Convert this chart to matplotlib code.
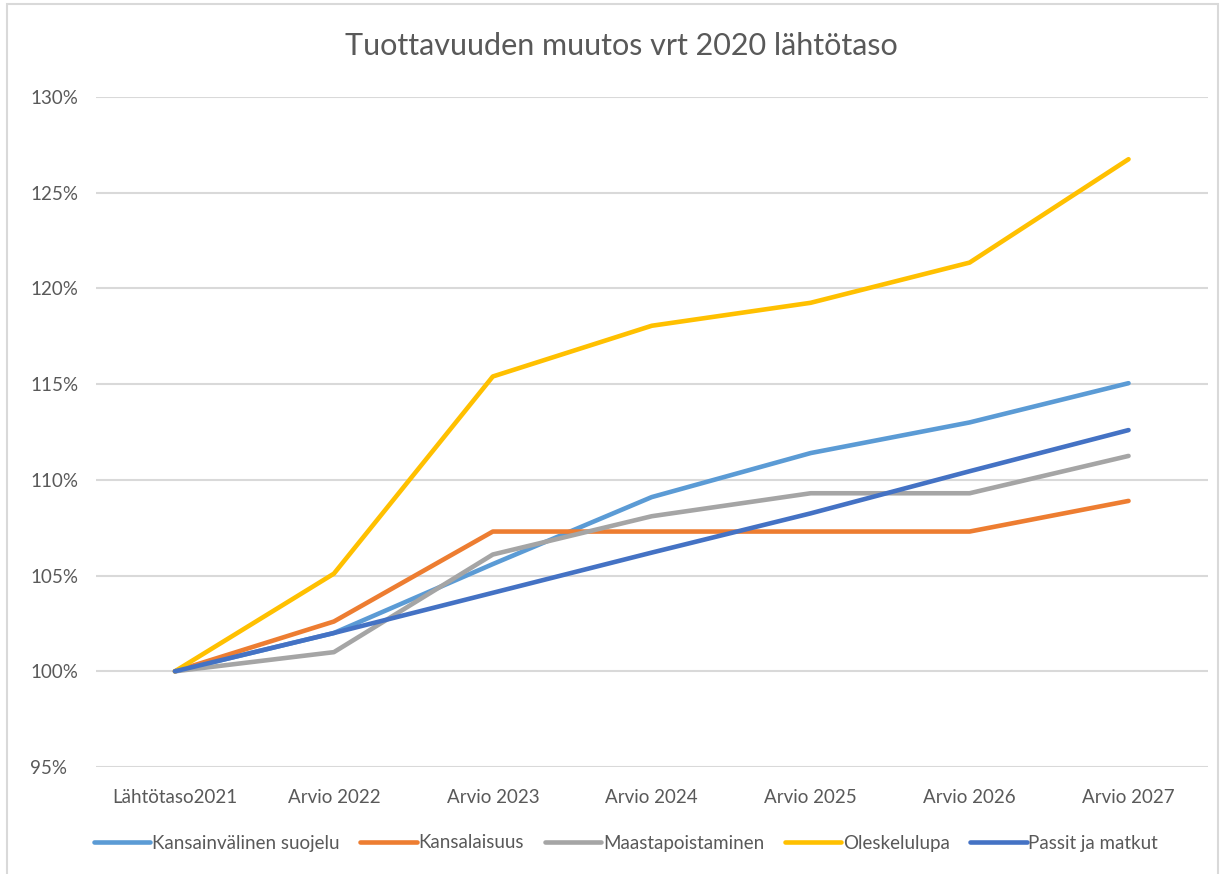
import matplotlib.pyplot as plt
from matplotlib.patches import Rectangle
from matplotlib.ticker import FuncFormatter

categories = ['Lähtötaso2021', 'Arvio 2022', 'Arvio 2023', 'Arvio 2024',
              'Arvio 2025', 'Arvio 2026', 'Arvio 2027']
kansainvalinen = [100.0, 102.0, 105.6, 109.1, 111.4, 113.0, 115.05]
kansalaisuus = [100.0, 102.6, 107.3, 107.3, 107.3, 107.3, 108.9]
maastapoistaminen = [100.0, 101.0, 106.1, 108.1, 109.3, 109.3, 111.25]
oleskelulupa = [100.0, 105.1, 115.4, 118.05, 119.25, 121.35, 126.75]
passit = [100.0, 102.0, 104.1, 106.2, 108.25, 110.45, 112.6]

series = [
    ('Kansainvälinen suojelu', kansainvalinen, '#5B9BD5'),
    ('Kansalaisuus', kansalaisuus, '#ED7D31'),
    ('Maastapoistaminen', maastapoistaminen, '#A5A5A5'),
    ('Oleskelulupa', oleskelulupa, '#FFC000'),
    ('Passit ja matkut', passit, '#4472C4'),
]

plt.rcParams['font.family'] = ['Lato', 'DejaVu Sans']
txt = '#595959'

fig = plt.figure(figsize=(12.23, 8.74), dpi=100)
fig.patches.append(Rectangle((7 / 1223, -0.01), 1211 / 1223, 1 - 4 / 874 + 0.01,
                             transform=fig.transFigure, fill=False,
                             edgecolor='#d9d9d9', linewidth=1.5))
ax = fig.add_axes([95.5 / 1223, 1 - 767 / 874, (1208 - 95.5) / 1223, (767 - 97) / 874])

x = range(len(categories))
for name, vals, col in series:
    ax.plot(x, vals, color=col, linewidth=3.3, label=name, solid_capstyle='round')

ax.set_xlim(-0.5, len(categories) - 0.5)
ax.set_ylim(95, 130)
ax.set_yticks(range(95, 131, 5))
ax.yaxis.set_major_formatter(FuncFormatter(lambda v, p: f'{int(v)}%'))
ax.set_xticks(list(x))
ax.set_xticklabels(categories)
ax.grid(axis='y', color='#d9d9d9', linewidth=1.5)
ax.set_axisbelow(True)
for s in ax.spines.values():
    s.set_visible(False)
ax.tick_params(axis='both', length=0, labelsize=13.5, colors=txt)
ax.tick_params(axis='x', pad=16)
ax.tick_params(axis='y', pad=47)
for lab in ax.get_yticklabels():
    lab.set_horizontalalignment('left')

fig.text(0.508, 1 - 46 / 874, 'Tuottavuuden muutos vrt 2020 lähtötaso',
         ha='center', va='center', fontsize=22, color=txt)

fig.legend(loc='center', bbox_to_anchor=(0.512, 1 - 843 / 874), ncol=5,
           frameon=False, fontsize=13.5, labelcolor=txt, handlelength=3.0,
           handletextpad=0.1, columnspacing=1.1)

fig.savefig('out.png', dpi=100)
